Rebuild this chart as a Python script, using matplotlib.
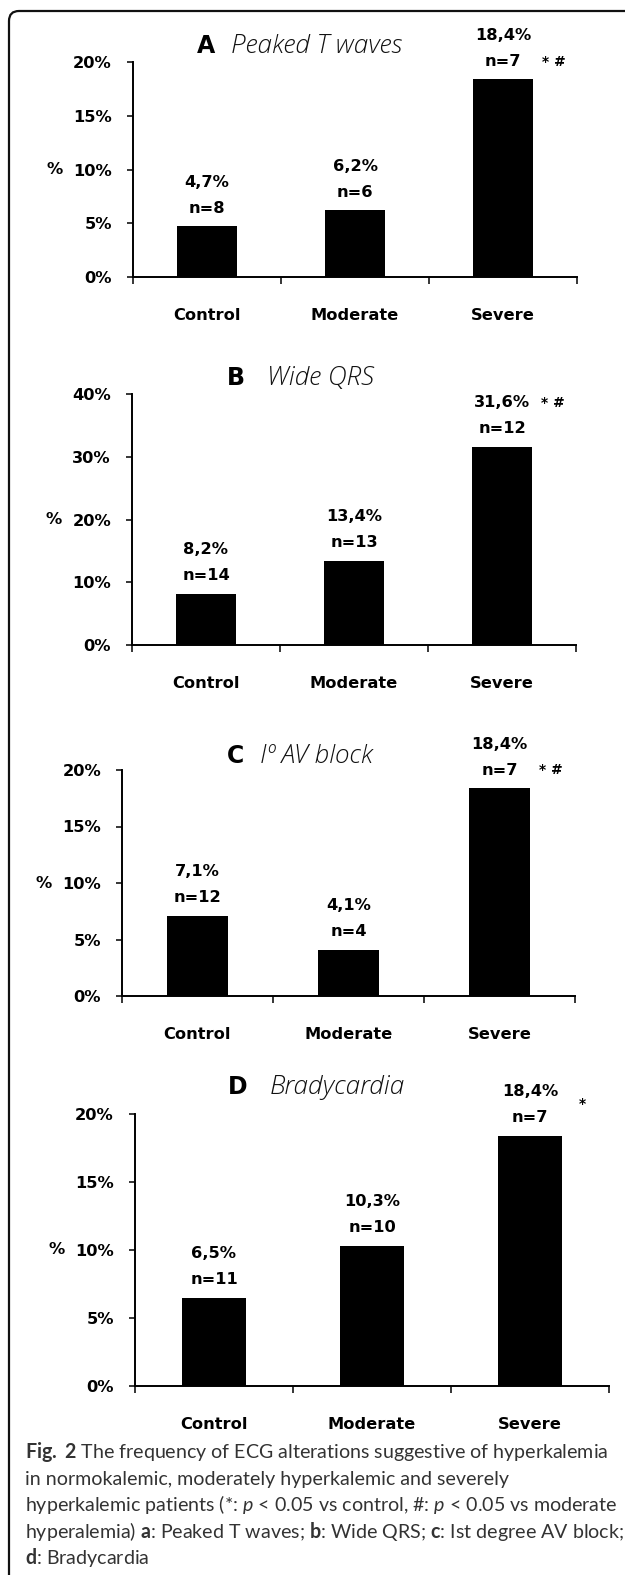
"""
Fig. 2 – ECG alterations suggestive of hyperkalemia, four stacked bar panels.
"""

import matplotlib
matplotlib.use("Agg")
import matplotlib.pyplot as plt
from matplotlib.patches import FancyBboxPatch
from matplotlib.transforms import IdentityTransform

W, H = 625, 1575

CATEGORIES = ["Control", "Moderate", "Severe"]

PEAKED_T = [4.7, 6.2, 18.4]
PEAKED_T_N = [8, 6, 7]
WIDE_QRS = [8.2, 13.4, 31.6]
WIDE_QRS_N = [14, 13, 12]
AV_BLOCK = [7.1, 4.1, 18.4]
AV_BLOCK_N = [12, 4, 7]
BRADY = [6.5, 10.3, 18.4]
BRADY_N = [11, 10, 7]

PANEL_LETTERS = ["A", "B", "C", "D"]
PANEL_NAMES = ["Peaked T waves", "Wide QRS", "Iº AV block", "Bradycardia"]
SIG_MARKS = ["* #", "* #", "* #", "*"]
YMAX = [20, 40, 20, 20]
YSTEP = [5, 10, 5, 5]
YLABEL_AT = [10, 20, 10, 10]

# layout in pixels: left, right, y of 0%, y of top, title letter x, title text x, title baseline,
# star offset above bar top (px)
LAYOUT = [
    (133, 577, 277, 62, 197, 231, 53, 17),
    (132, 576, 645, 394, 227, 267, 385, 44),
    (122, 575, 996, 770, 227, 260, 763, 18),
    (135, 609, 1386, 1114, 228, 270, 1094, 32),
]

CAPTION = [
    r"$\mathbf{Fig.\ 2}$ The frequency of ECG alterations suggestive of hyperkalemia",
    "in normokalemic, moderately hyperkalemic and severely",
    r"hyperkalemic patients (*: $\mathit{p}$ < 0.05 vs control, #: $\mathit{p}$ < 0.05 vs moderate",
    r"hyperalemia) $\mathbf{a}$: Peaked T waves; $\mathbf{b}$: Wide QRS; $\mathbf{c}$: Ist degree AV block;",
    r"$\mathbf{d}$: Bradycardia",
]

PX = 72 / 100  # points per pixel at dpi 100
BOLD = dict(family="DejaVu Sans", weight="bold", size=11.7)


def pct(v):
    return f"{v:.1f}%".replace(".", ",")


def panel(fig, values, counts, idx):
    left, right, y0, ytop, lx, tx, tb, star_off = LAYOUT[idx]
    ax = fig.add_axes([left / W, (H - y0) / H, (right - left) / W, (y0 - ytop) / H])
    x = range(len(CATEGORIES))
    ax.bar(x, values, width=0.4, color="black")

    ax.set_xlim(-0.5, 2.5)
    ax.set_ylim(0, YMAX[idx])
    for s in ["top", "right"]:
        ax.spines[s].set_visible(False)
    for s in ["left", "bottom"]:
        ax.spines[s].set_linewidth(1.4)

    yt = list(range(0, YMAX[idx] + 1, YSTEP[idx]))
    ax.set_yticks(yt)
    ax.set_yticklabels([f"{v}%" for v in yt], **BOLD)
    ax.tick_params(axis="y", length=6 * PX, width=1.1, pad=15 * PX)

    ax.set_xticks(list(x))
    ax.set_xticklabels(CATEGORIES, **BOLD)
    ax.tick_params(axis="x", which="major", length=0, pad=31 * PX)
    ax.set_xticks([-0.5, 0.5, 1.5, 2.5], minor=True)
    ax.tick_params(axis="x", which="minor", length=7 * PX, width=1.1)

    for i, (v, n) in enumerate(zip(values, counts)):
        ax.annotate(pct(v), (i, v), xytext=(0, 44 * PX), textcoords="offset points",
                    ha="center", va="center", **BOLD)
        ax.annotate(f"n={n}", (i, v), xytext=(0, 18 * PX), textcoords="offset points",
                    ha="center", va="center", **BOLD)

    # significance marks beside the severe bar
    ax.annotate(SIG_MARKS[idx], (2.2, values[2]), xytext=(21 * PX, star_off * PX),
                textcoords="offset points", ha="center", va="center",
                family="DejaVu Sans", weight="bold", size=10)

    ax.annotate("%", (0, YLABEL_AT[idx]), xycoords=("axes fraction", "data"),
                xytext=(-70 * PX, 0), textcoords="offset points",
                ha="right", va="center", **BOLD)

    fig.text(lx / W, 1 - tb / H, PANEL_LETTERS[idx], family="DejaVu Sans",
             weight="bold", size=17, va="baseline", ha="left")
    fig.text(tx / W, 1 - tb / H, PANEL_NAMES[idx], family="Open Sans",
             style="italic", weight="light", size=18.8, va="baseline", ha="left",
             color="#111111")
    return ax


def main():
    plt.rcParams["mathtext.fontset"] = "custom"
    plt.rcParams["mathtext.rm"] = "Lato"
    plt.rcParams["mathtext.it"] = "Lato:italic"
    plt.rcParams["mathtext.bf"] = "Lato:bold"

    fig = plt.figure(figsize=(W / 100, H / 100), dpi=100)

    data = [(PEAKED_T, PEAKED_T_N), (WIDE_QRS, WIDE_QRS_N),
            (AV_BLOCK, AV_BLOCK_N), (BRADY, BRADY_N)]
    for i, (vals, ns) in enumerate(data):
        panel(fig, vals, ns, i)

    # rounded frame, open to the right and bottom
    frame = FancyBboxPatch((9, -40), 700, H - 11 + 40, boxstyle="round,pad=0,rounding_size=10",
                           transform=IdentityTransform(), fill=False,
                           edgecolor="#111111", linewidth=1.6)
    fig.add_artist(frame)

    caption = []
    for k, line in enumerate(CAPTION):
        caption.append(fig.text(25 / W, 1 - (1458 + k * 26.6) / H, line, family="Lato",
                                size=13, va="baseline", ha="left", color="#333333"))
    # widest line should run from x=25 to about x=616
    r = fig.canvas.get_renderer()
    w3 = caption[2].get_window_extent(r).width
    for t in caption:
        t.set_fontsize(13 * 591 / w3)

    fig.savefig("out.png", dpi=100)
    plt.close(fig)


if __name__ == "__main__":
    main()
